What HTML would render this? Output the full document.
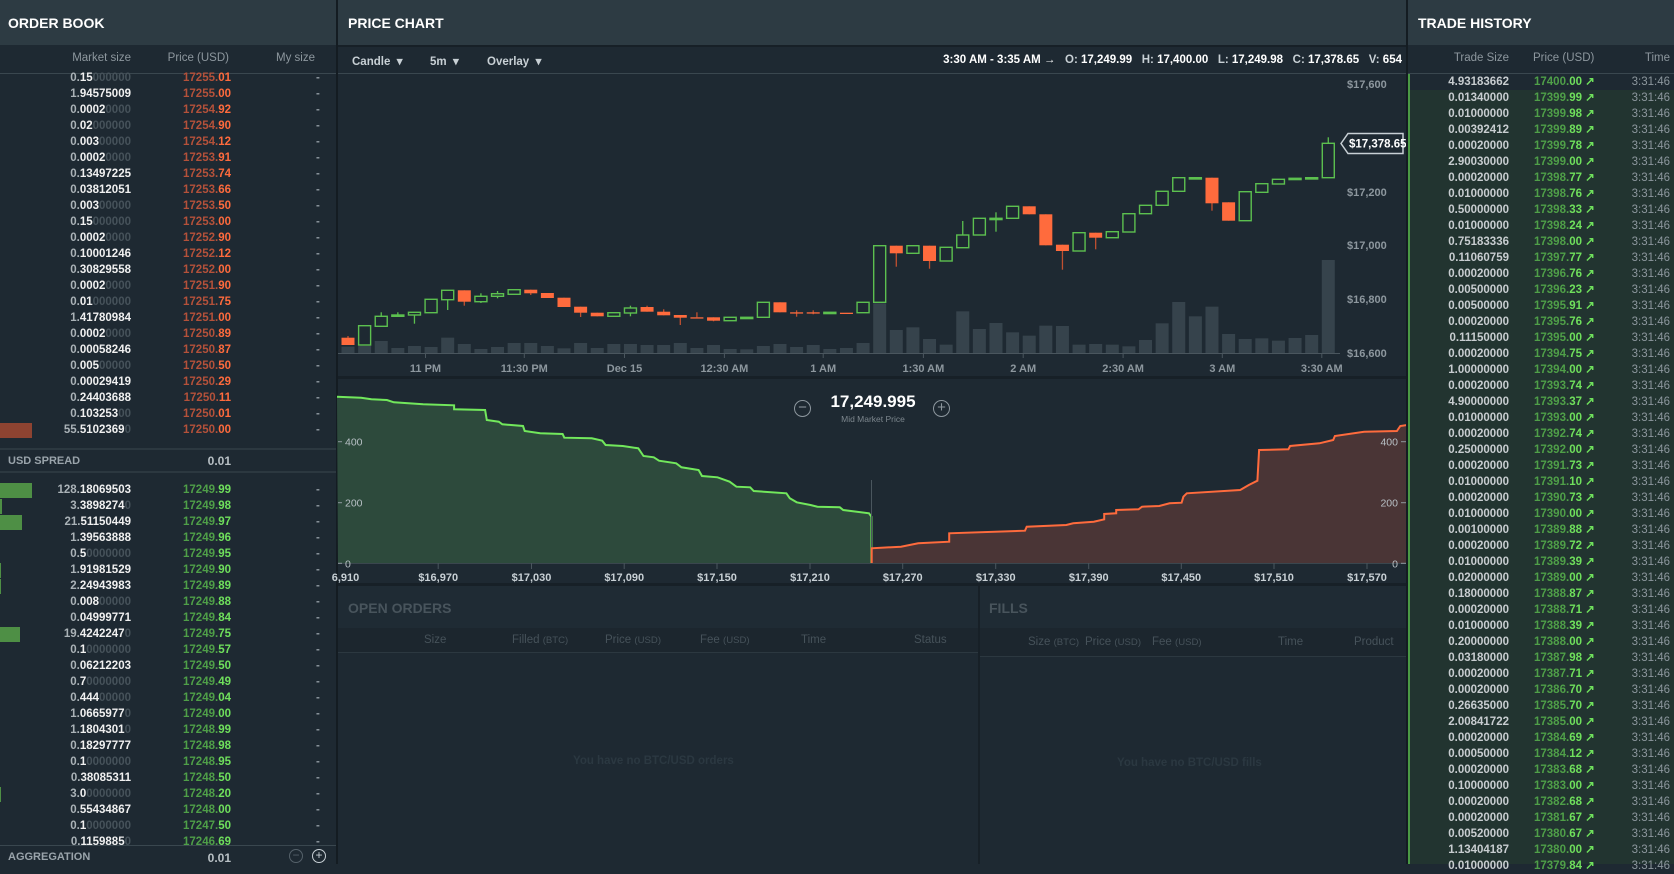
<!DOCTYPE html>
<html><head><meta charset="utf-8">
<style>
*{margin:0;padding:0;box-sizing:border-box}
body{width:1674px;height:864px;overflow:hidden;background:#1e2932;font-family:"Liberation Sans",sans-serif;position:relative}
.a{position:absolute;white-space:nowrap}
.hdr{background:#2d3b43;height:45px;top:0}
.title{color:#fff;font-weight:bold;font-size:14px;top:15px}
.ch{color:#8d979e;font-size:11.5px}
.row{position:absolute;font-size:11.5px;font-weight:bold;height:16px;line-height:16px}
.dim{color:#46525a}.g1{color:#aab2b7}.w{color:#f0f0f0}
.rd1{color:#b4513a}.rd2{color:#ff6b3d}.gr1{color:#4f9f48}.gr2{color:#6fe05c}
</style></head><body>
<!-- order book -->
<div class="a hdr" style="left:0;width:336px"></div>
<div class="a title" style="left:8px">ORDER BOOK</div>
<div class="a" style="left:0;top:73px;width:336px;height:1px;background:#3a474f"></div>
<div class="a ch" style="right:1543px;top:52px">Market size</div>
<div class="a ch" style="right:1445px;top:52px">Price (USD)</div>
<div class="a ch" style="right:1359px;top:52px">My size</div>
<div class="a" style="left:336px;top:0;width:2px;height:864px;background:#141c22"></div>
<div class="a" style="left:0;top:448px;width:336px;height:2px;background:#2c3840"></div>
<div class="a" style="left:0;top:471px;width:336px;height:2px;background:#2c3840"></div>
<div class="a" style="left:8px;top:455px;font-size:11px;font-weight:bold;color:#9aa4ab">USD SPREAD</div>
<div class="a" style="right:1443px;top:454px;font-size:12px;font-weight:bold;color:#b8c0c5">0.01</div>
<div class="a" style="left:0;top:845px;width:336px;height:1px;background:#3a474f"></div>
<div class="a" style="left:8px;top:851px;font-size:11px;font-weight:bold;color:#9aa4ab">AGGREGATION</div>
<div class="a" style="right:1443px;top:851px;font-size:12px;font-weight:bold;color:#b8c0c5">0.01</div>
<div class="a" style="left:289px;top:849px;width:14px;height:14px;border:1.5px solid #55616a;border-radius:50%;color:#55616a;font-size:12px;line-height:10px;text-align:center">−</div>
<div class="a" style="left:312px;top:849px;width:14px;height:14px;border:1.5px solid #c8d0d5;border-radius:50%;color:#c8d0d5;font-size:12px;line-height:10px;text-align:center">+</div>
<div id="ob"></div>

<!-- price chart -->
<div class="a hdr" style="left:338px;width:1068px"></div>
<div class="a title" style="left:348px">PRICE CHART</div>
<div class="a" style="left:338px;top:45px;width:1068px;height:2px;background:#172027"></div>
<div class="a" style="left:338px;top:73px;width:1068px;height:1px;background:#3a474f"></div>
<div class="a" style="left:352px;top:54px;font-size:11.5px;font-weight:bold;color:#c8d0d5">Candle &nbsp;▾</div>
<div class="a" style="left:430px;top:54px;font-size:11.5px;font-weight:bold;color:#c8d0d5">5m &nbsp;▾</div>
<div class="a" style="left:487px;top:54px;font-size:11.5px;font-weight:bold;color:#c8d0d5">Overlay &nbsp;▾</div>
<div class="a" style="right:272px;top:54px;font-size:11.5px;font-weight:bold;color:#fff">3:30 AM - 3:35 AM → &nbsp; <span style="color:#c8d0d5">O:</span> 17,249.99 &nbsp; <span style="color:#c8d0d5">H:</span> 17,400.00 &nbsp; <span style="color:#c8d0d5">L:</span> 17,249.98 &nbsp; <span style="color:#c8d0d5">C:</span> 17,378.65 &nbsp; <span style="color:#c8d0d5">V:</span> 654</div>
<svg class="a" style="left:0;top:0" width="1674" height="864" id="sv">
<rect x="338" y="376" width="1068" height="3" fill="#172027"/>
<rect x="338" y="583" width="1068" height="3" fill="#172027"/>
<polygon points="1341,143.5 1348,133.5 1403,133.5 1403,153.5 1348,153.5" fill="#1e2932" stroke="#c8d0d5" stroke-width="1.5"/>
<text x="1349" y="147.5" font-size="11.5" font-weight="bold" fill="#fff" font-family="Liberation Sans">$17,378.65</text>
</svg>
<div class="a" style="left:780px;top:392px;width:186px;text-align:center;color:#fff;font-weight:bold;font-size:17px">17,249.995</div>
<div class="a" style="left:780px;top:414px;width:186px;text-align:center;color:#7d878e;font-size:8.5px">Mid Market Price</div>
<div class="a" style="left:794px;top:400px;width:17px;height:17px;border:1.5px solid #8d979e;border-radius:50%;color:#8d979e;font-size:15px;line-height:13px;text-align:center">−</div>
<div class="a" style="left:933px;top:400px;width:17px;height:17px;border:1.5px solid #8d979e;border-radius:50%;color:#8d979e;font-size:15px;line-height:13px;text-align:center">+</div>

<!-- open orders / fills -->
<div class="a" style="left:338px;top:586px;width:640px;height:42px;background:#1f2b34"></div>
<div class="a" style="left:348px;top:600px;font-size:14px;font-weight:bold;color:#48545c">OPEN ORDERS</div>
<div class="a" style="left:338px;top:628px;width:640px;height:25px;background:#1c262e"></div>
<div class="a" style="left:338px;top:652px;width:640px;height:1px;background:#2c3840"></div>
<div class="a" style="left:978px;top:586px;width:2px;height:278px;background:#172027"></div>
<div class="a" style="left:980px;top:586px;width:426px;height:42px;background:#1f2b34"></div>
<div class="a" style="left:989px;top:600px;font-size:14px;font-weight:bold;color:#48545c">FILLS</div>
<div class="a" style="left:980px;top:628px;width:426px;height:28px;background:#1c262e"></div>
<div class="a" style="left:980px;top:656px;width:426px;height:1px;background:#2c3840"></div>
<div class="a" style="left:0;top:0;font-size:11.5px;color:#46525a">
<span class="a" style="left:424px;top:634px">Size</span>
<span class="a" style="left:512px;top:634px">Filled <small>(BTC)</small></span>
<span class="a" style="left:605px;top:634px">Price <small>(USD)</small></span>
<span class="a" style="left:700px;top:634px">Fee <small>(USD)</small></span>
<span class="a" style="left:801px;top:634px">Time</span>
<span class="a" style="left:914px;top:634px">Status</span>
<span class="a" style="left:1028px;top:636px">Size <small>(BTC)</small></span>
<span class="a" style="left:1085px;top:636px">Price <small>(USD)</small></span>
<span class="a" style="left:1152px;top:636px">Fee <small>(USD)</small></span>
<span class="a" style="left:1278px;top:636px">Time</span>
<span class="a" style="left:1354px;top:636px">Product</span>
</div>
<div class="a" style="left:573px;top:755px;font-size:11.5px;font-weight:bold;color:#2b3841">You have no BTC/USD orders</div>
<div class="a" style="left:1117px;top:757px;font-size:11.5px;font-weight:bold;color:#2b3841">You have no BTC/USD fills</div>
<div class="a" style="left:1406px;top:0;width:2px;height:864px;background:#141c22"></div>

<!-- trade history -->
<div class="a hdr" style="left:1408px;width:266px"></div>
<div class="a title" style="left:1418px">TRADE HISTORY</div>
<div class="a" style="left:1408px;top:73px;width:266px;height:1px;background:#3a474f"></div>
<div class="a ch" style="right:165px;top:52px">Trade Size</div>
<div class="a ch" style="left:1533px;top:52px">Price (USD)</div>
<div class="a ch" style="right:4px;top:52px">Time</div>
<div class="a" style="left:1408px;top:90px;width:266px;height:774px;background:#223430"></div>
<div class="a" style="left:1408px;top:74px;width:2px;height:790px;background:#4b9a45"></div>
<div id="th"></div>

<script>
function sz(s,dec){var p=s.split('.');var d=p[1]||'';var m=d.match(/^(.*?)(0*)$/);var sig=m[1],z=m[2];
if(d.length<dec){z+= '0'.repeat(dec-d.length);}
return '<span class="g1">'+p[0]+'.</span><span class="w">'+sig+'</span><span class="dim">'+z+'</span>';}
var asks=[["0.15","17255.01"],["1.94575009","17255.00"],["0.0002","17254.92"],["0.02","17254.90"],["0.003","17254.12"],["0.0002","17253.91"],["0.13497225","17253.74"],["0.03812051","17253.66"],["0.003","17253.50"],["0.15","17253.00"],["0.0002","17252.90"],["0.10001246","17252.12"],["0.30829558","17252.00"],["0.0002","17251.90"],["0.01","17251.75"],["1.41780984","17251.00"],["0.0002","17250.89"],["0.00058246","17250.87"],["0.005","17250.50"],["0.00029419","17250.29"],["0.24403688","17250.11"],["0.103253","17250.01"],["55.5102369","17250.00"]];
var bids=[["128.18069503","17249.99",32],["3.3898274","17249.98",2],["21.51150449","17249.97",22],["1.39563888","17249.96",0],["0.5","17249.95",0],["1.91981529","17249.90",1],["2.24943983","17249.89",1],["0.008","17249.88",0],["0.04999771","17249.84",0],["19.4242247","17249.75",20],["0.1","17249.57",0],["0.06212203","17249.50",0],["0.7","17249.49",0],["0.444","17249.04",0],["1.0665977","17249.00",0],["1.1804301","17248.99",0],["0.18297777","17248.98",0],["0.1","17248.95",0],["0.38085311","17248.50",0],["3.0","17248.20",1],["0.55434867","17248.00",0],["0.1","17247.50",0],["0.1159885","17246.69",0]];
var h='';
function sz3(s){ if(s==="3.0") return '<span class="g1">3.</span><span class="w">0</span><span class="dim">0000000</span>'; return sz(s,8);}
asks.forEach(function(r,i){var y=70+i*16;var pp=r[1].split('.');
if(i==22)h+='<div class="a" style="left:0;top:'+(y+1)+'px;width:32px;height:15px;background:#8e4331"></div>';
h+='<div class="row" style="right:1543px;top:'+y+'px">'+sz3(r[0])+'</div><div class="row" style="right:1443px;top:'+y+'px"><span class="rd1">'+pp[0]+'.</span><span class="rd2">'+pp[1]+'</span></div><div class="row" style="left:316px;top:'+y+'px;color:#8d979e">-</div>';});
bids.forEach(function(r,i){var y=482+i*16;var pp=r[1].split('.');
if(r[2])h+='<div class="a" style="left:0;top:'+(y+1)+'px;width:'+r[2]+'px;height:15px;background:#4e8f45"></div>';
h+='<div class="row" style="right:1543px;top:'+y+'px">'+sz3(r[0])+'</div><div class="row" style="right:1443px;top:'+y+'px"><span class="gr1">'+pp[0]+'.</span><span class="gr2">'+pp[1]+'</span></div><div class="row" style="left:316px;top:'+y+'px;color:#8d979e">-</div>';});
document.getElementById('ob').innerHTML=h;

var tr=[["4.93183662","17400.00"],["0.01340000","17399.99"],["0.01000000","17399.98"],["0.00392412","17399.89"],["0.00020000","17399.78"],["2.90030000","17399.00"],["0.00020000","17398.77"],["0.01000000","17398.76"],["0.50000000","17398.33"],["0.01000000","17398.24"],["0.75183336","17398.00"],["0.11060759","17397.77"],["0.00020000","17396.76"],["0.00500000","17396.23"],["0.00500000","17395.91"],["0.00020000","17395.76"],["0.11150000","17395.00"],["0.00020000","17394.75"],["1.00000000","17394.00"],["0.00020000","17393.74"],["4.90000000","17393.37"],["0.01000000","17393.00"],["0.00020000","17392.74"],["0.25000000","17392.00"],["0.00020000","17391.73"],["0.01000000","17391.10"],["0.00020000","17390.73"],["0.01000000","17390.00"],["0.00100000","17389.88"],["0.00020000","17389.72"],["0.01000000","17389.39"],["0.02000000","17389.00"],["0.18000000","17388.87"],["0.00020000","17388.71"],["0.01000000","17388.39"],["0.20000000","17388.00"],["0.03180000","17387.98"],["0.00020000","17387.71"],["0.00020000","17386.70"],["0.26635000","17385.70"],["2.00841722","17385.00"],["0.00020000","17384.69"],["0.00050000","17384.12"],["0.00020000","17383.68"],["0.10000000","17383.00"],["0.00020000","17382.68"],["0.00020000","17381.67"],["0.00520000","17380.67"],["1.13404187","17380.00"],["0.01000000","17379.84"]];
h='';
tr.forEach(function(r,i){var y=74+i*16;var pp=r[1].split('.');
h+='<div class="row" style="right:165px;top:'+y+'px;color:#c8cdd0">'+r[0]+'</div><div class="row" style="left:1534px;top:'+y+'px"><span class="gr1">'+pp[0]+'.</span><span class="gr2">'+pp[1]+' ↗</span></div><div class="row" style="right:4px;top:'+y+'px;color:#8d979e;font-weight:normal">3:31:46</div>';});
document.getElementById('th').innerHTML=h;

var C=[[337.7,345,336,345,0],[325.7,345,325.7,345,1],[316.3,326.3,312.3,326.3,1],[315,316.3,312.3,316.3,1],[312.3,315,312.3,323.7,1],[299.3,312.7,299.3,312.7,1],[290.3,299.7,290.3,310,1],[290.3,301.7,290.3,305.7,0],[296.3,301.7,293.3,303,1],[293.7,296.3,291,298.3,1],[289.7,294.3,289.7,294.3,1],[289.7,293.3,289.7,295,0],[293,298,293,298,0],[297.7,307,297.7,307,0],[306.7,312.7,306.7,317,0],[312.7,316.3,312.7,316.3,0],[312.7,316.3,312.7,316.3,1],[308,313,305.7,316.3,1],[307,311.7,305.7,311.7,0],[311.7,315.3,309.3,315.3,0],[315,317.7,315,325,0],[317.3,317.3,312.3,317.3,0],[317.3,320.7,317.3,321.3,0],[317.3,320.7,317.3,320.7,1],[317.3,317.3,317.3,317.3,1],[302.3,317.3,302.3,317.3,1],[302.3,312.3,302.3,312.3,0],[312.3,312.3,310.3,316.7,0],[312.3,312.3,310.3,314.3,0],[312.3,312.3,312.3,312.3,1],[312.7,312.7,312.7,312.7,0],[302.3,312.7,302.3,312.7,1],[245.7,302.3,245.7,302.3,1],[245.7,253.3,245.7,266.7,0],[245.7,253.3,245.7,253.3,1],[245.7,261,245.7,268.7,0],[247.3,261,247.3,261,1],[235,247.7,221,247.7,1],[218.3,235,218.3,235,1],[218.3,218.3,212.3,231.7,1],[206.3,218.3,206.3,218.3,1],[206.3,214.3,206.3,214.3,0],[214.3,245.3,214.3,245.3,0],[244.7,251,244.7,269.7,0],[232.7,251,232.7,251,1],[232.7,237.7,232.7,249.3,0],[231.7,237.7,231.7,237.7,1],[213.7,232,213.7,232,1],[205.3,213.7,205.3,213.7,1],[191.3,205.3,191.3,205.3,1],[177.7,191.3,177.7,191.3,1],[177.7,177.7,177.7,177.7,1],[177.7,203.3,177.7,210.7,0],[202.3,220.7,202.3,220.7,0],[191.7,220.7,191.7,220.7,1],[183.7,192.3,183.7,192.3,1],[179.3,184,179.3,184,1],[178.3,178.3,178.3,178.3,1],[177.7,177.7,177.7,177.7,1],[143.3,177.7,137.3,177.7,1]];
var V=[920,918,903,924,918,921,893,912,927,921,909,909,918,925,909,924,912,912,915,915,909,924,915,927,928,918,912,921,915,927,924,909,790,870,862,897,914,814,867,849,877,887,857,858,914,912,914,919,900,850,786,829,800,882,897,895,902,894,885,660];
var s='';
V.forEach(function(v,i){var x=348+i*16.615;var t=40+v/3;s+='<rect x="'+(x-6.5)+'" y="'+t+'" width="13" height="'+(353-t)+'" fill="#36434c"/>';});
s+='<line x1="338" y1="353.5" x2="1340" y2="353.5" stroke="#4a565e"/>';
C.forEach(function(c,i){var x=348+i*16.615;var col=c[4]?'#5cc04f':'#ff6b3d';
s+='<line x1="'+x+'" y1="'+c[2]+'" x2="'+x+'" y2="'+c[3]+'" stroke="'+(c[4]?col:'#c05030')+'" stroke-width="1.3"/>';
var hgt=Math.max(c[1]-c[0],1.3);
if(c[4])s+='<rect x="'+(x-6)+'" y="'+c[0]+'" width="12" height="'+hgt+'" fill="#1e2932" stroke="'+col+'" stroke-width="1.4"/>';
else s+='<rect x="'+(x-6.5)+'" y="'+c[0]+'" width="13" height="'+hgt+'" fill="'+col+'"/>';});
var yl=[["$17,600",84],["$17,200",192],["$17,000",245],["$16,800",299],["$16,600",353]];
yl.forEach(function(l){s+='<text x="1347" y="'+(l[1]+4)+'" font-size="11" font-weight="bold" fill="#8d979e" font-family="Liberation Sans">'+l[0]+'</text>';});
var xl=[["11 PM",425.5],["11:30 PM",524.3],["Dec 15",624.5],["12:30 AM",724.4],["1 AM",823.2],["1:30 AM",923.4],["2 AM",1023.2],["2:30 AM",1123.1],["3 AM",1222.3],["3:30 AM",1321.8]];
xl.forEach(function(l){s+='<line x1="'+l[1]+'" y1="353" x2="'+l[1]+'" y2="358" stroke="#4a565e"/><text x="'+l[1]+'" y="372" text-anchor="middle" font-size="11" font-weight="bold" fill="#8d979e" font-family="Liberation Sans">'+l[0]+'</text>';});
var G=[[0,80],[70,83],[100,88],[145,90],[165,97],[250,103],[340,106],[340,118],[430,120],[435,150],[470,155],[480,163],[540,168],[545,183],[590,190],[655,192],[660,203],[740,205],[770,212],[780,225],[830,228],[875,235],[890,258],[920,262],[935,272],[985,280],[1000,292],[1050,300],[1060,318],[1105,322],[1140,335],[1160,350],[1200,352],[1210,363],[1305,370],[1315,385],[1335,397],[1375,405],[1395,410],[1460,412],[1470,420],[1545,430],[1552,440],[1552,580]];
var R=[[5,580],[5,535],[90,530],[140,520],[230,515],[230,490],[450,482],[455,470],[570,465],[590,460],[650,455],[680,448],[680,432],[715,430],[715,420],[780,418],[790,410],[840,408],[870,400],[905,398],[910,380],[920,370],[1075,360],[1100,345],[1125,332],[1130,240],[1215,238],[1220,228],[1305,220],[1345,210],[1350,198],[1435,185],[1530,183],[1540,168],[1560,165],[1580,165]];
function pts(a,ox){return a.map(function(p){return (ox+p[0]/2.904).toFixed(1)+','+(370+p[1]/3).toFixed(1);}).join(' ');}
var gp=pts(G,337),rp=pts(R,870);
s+='<polygon points="338,563.3 '+gp+'" fill="#2d4a3c"/><polyline points="'+gp+'" fill="none" stroke="#72e85c" stroke-width="2"/>';
s+='<line x1="871.5" y1="480" x2="871.5" y2="563" stroke="#4a565e"/>';
s+='<polygon points="'+rp+' 1406,563.3" fill="#4a3536"/><polyline points="'+rp+'" fill="none" stroke="#ff6b3d" stroke-width="2"/>';
s+='<line x1="338" y1="563.5" x2="1406" y2="563.5" stroke="#3a464e"/>';
[["400",441.7],["200",502.7],["0",563.3]].forEach(function(l){s+='<line x1="338" y1="'+l[1]+'" x2="342" y2="'+l[1]+'" stroke="#8d979e"/><text x="345" y="'+(l[1]+4)+'" font-size="10.5" fill="#b8c0c5" font-family="Liberation Sans">'+l[0]+'</text><line x1="1401" y1="'+l[1]+'" x2="1406" y2="'+l[1]+'" stroke="#8d979e"/><text x="1398" y="'+(l[1]+4)+'" text-anchor="end" font-size="10.5" fill="#b8c0c5" font-family="Liberation Sans">'+l[0]+'</text>';});
var dl=[["6,910",345.5],["$16,970",438.2],["$17,030",531.5],["$17,090",624.2],["$17,150",717],["$17,210",810],["$17,270",902.7],["$17,330",995.7],["$17,390",1088.7],["$17,450",1181.3],["$17,510",1274],["$17,570",1367]];
dl.forEach(function(l,i){if(i>0)s+='<line x1="'+l[1]+'" y1="563" x2="'+l[1]+'" y2="569" stroke="#4a565e"/>';s+='<text x="'+l[1]+'" y="581" text-anchor="middle" font-size="11" font-weight="bold" fill="#c8d0d5" font-family="Liberation Sans">'+l[0]+'</text>';});
document.getElementById('sv').insertAdjacentHTML('beforeend',s);
</script>
</body></html>
